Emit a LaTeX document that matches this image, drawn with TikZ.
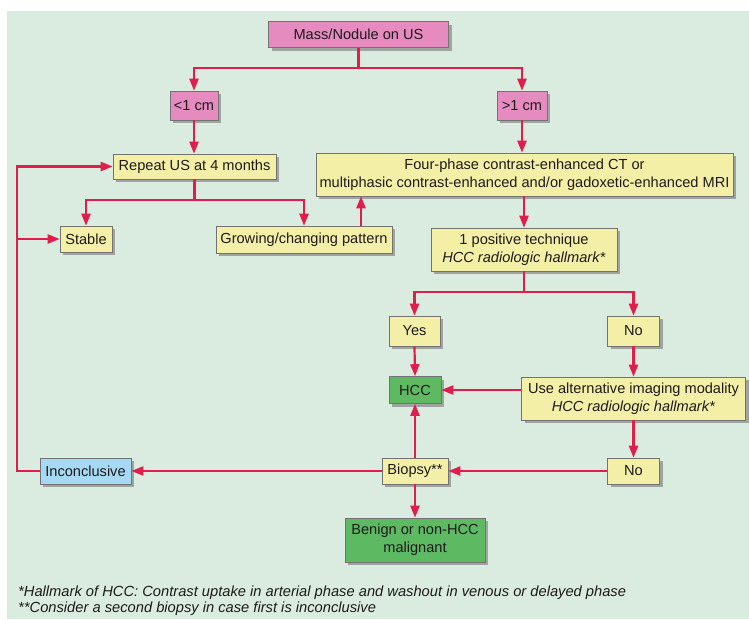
\documentclass[tikz,border=0pt]{standalone}
\usepackage{fontspec}
\setmainfont{Liberation Sans}
\usetikzlibrary{arrows.meta,shadows}

\definecolor{panelgreen}{HTML}{D9ECDF}
\definecolor{pinkbox}{HTML}{E68BBF}
\definecolor{yellowbox}{HTML}{F4EFA7}
\definecolor{greenbox}{HTML}{5EB963}
\definecolor{bluebox}{HTML}{A6D9F3}
\definecolor{linkred}{HTML}{E11E4B}
\definecolor{textdark}{HTML}{1E1A1B}

\tikzset{
  box/.style={draw=black!55, line width=0.6pt, inner sep=0pt, align=center,
    text=textdark, font=\fontsize{14.6}{18.3}\selectfont,
    drop shadow={shadow xshift=3pt, shadow yshift=-3pt, fill=black!45, opacity=0.75}},
  pinknode/.style={box, fill=pinkbox},
  yellownode/.style={box, fill=yellowbox},
  greennode/.style={box, fill=greenbox},
  bluenode/.style={box, fill=bluebox},
  link/.style={draw=linkred, line width=2.2pt},
  arr/.style={link, -{Triangle[length=12pt, width=9pt]}},
  note/.style={anchor=base west, inner sep=0pt, text=textdark,
    font=\fontsize{14.7}{16}\selectfont\itshape}
}

\begin{document}
\begin{tikzpicture}[x=1pt, y=-1pt]
  % page and panel
  \fill[white] (0,0) rectangle (749,619);
  \useasboundingbox (0,0) rectangle (749,619);
  \fill[panelgreen] (7,11) rectangle (749,619);

  % boxes
  \node[pinknode, minimum width=180pt, minimum height=26pt] (mass) at (358.5,34.7) {Mass/Nodule on US};
  \node[pinknode, minimum width=48pt, minimum height=29pt] (lt1) at (194,105.5) {<1 cm};
  \node[pinknode, minimum width=50pt, minimum height=29pt] (gt1) at (522,105.5) {>1 cm};

  \node[yellownode, minimum width=163pt, minimum height=25pt] (repeat) at (194.5,166.5) {Repeat US at 4 months};
  \node[yellownode, minimum width=417pt, minimum height=43pt] (four) at (524.5,174.5)
    {Four-phase contrast-enhanced CT or\\multiphasic contrast-enhanced and/or gadoxetic-enhanced MRI};

  \node[yellownode, minimum width=52pt, minimum height=26pt] (stable) at (86,239) {Stable};
  \node[yellownode, minimum width=176pt, minimum height=27pt] (grow) at (304,239.5) {Growing/changing pattern};
  \node[yellownode, minimum width=186pt, minimum height=43pt] (pos) at (524,249.5)
    {1 positive technique\\\textit{HCC radiologic hallmark*}};

  \node[yellownode, minimum width=51pt, minimum height=30pt] (yes) at (414.5,331) {Yes};
  \node[yellownode, minimum width=52pt, minimum height=30pt] (no1) at (633.5,331) {No};

  \node[greennode, minimum width=52pt, minimum height=27pt] (hcc) at (415,390) {HCC};
  \node[yellownode, minimum width=224pt, minimum height=43pt] (alt) at (633.5,398.5)
    {Use alternative imaging modality\\\textit{HCC radiologic hallmark*}};

  \node[yellownode, minimum width=52pt, minimum height=26pt] (no2) at (633.5,471) {No};
  \node[yellownode, minimum width=66pt, minimum height=26pt] (biopsy) at (415,471) {Biopsy**};
  \node[bluenode, minimum width=91pt, minimum height=26pt] (incon) at (85.5,471) {Inconclusive};
  \node[greennode, minimum width=140pt, minimum height=44pt] (benign) at (415,540)
    {Benign or non-HCC\\malignant};

  % branch points
  \coordinate (s1) at (358.5,68);
  \coordinate (s2) at (194.5,200);
  \coordinate (s3) at (524,292);
  \coordinate (loop) at (17,166.5);

  % connectors
  \draw[link] (mass.south) -- (s1);
  \draw[arr] (s1) -| (lt1.north);
  \draw[arr] (s1) -| (gt1.north);

  \draw[arr] (lt1.south) -- (lt1.south |- repeat.north);
  \draw[arr] (gt1.south) -- (gt1.south |- four.north);

  \draw[link] (repeat.south) -- (s2);
  \draw[arr] (s2) -| (stable.north);
  \draw[arr] (s2) -| (grow.north);
  \draw[arr] ([xshift=57pt]grow.north) -- ([xshift=57pt]grow.north |- four.south);

  \draw[arr] (four.south -| pos.north) -- (pos.north);
  \draw[link] (pos.south) -- (s3);
  \draw[arr] (s3) -| (yes.north);
  \draw[arr] (s3) -| (no1.north);

  \draw[arr] (yes.south) -- (hcc.north);
  \draw[arr] (no1.south) -- (no1.south |- alt.north);
  \draw[arr] (alt.west |- hcc.east) -- (hcc.east);
  \draw[arr] (alt.south -| no2.north) -- (no2.north);
  \draw[arr] (no2.west) -- (biopsy.east);
  \draw[arr] (biopsy.north) -- (hcc.south);
  \draw[arr] (biopsy.south) -- (benign.north);
  \draw[arr] (biopsy.west) -- (incon.east);

  \draw[arr] (incon.west) -| (loop) -- (repeat.west);
  \draw[arr] (loop |- stable.west) -- (stable.west);

  % footnotes
  \node[note] (fn1) at (18,596) {*Hallmark of HCC: Contrast uptake in arterial phase and washout in venous or delayed phase};
  \node[note] (fn2) at (18,612) {**Consider a second biopsy in case first is inconclusive};
\end{tikzpicture}
\end{document}
